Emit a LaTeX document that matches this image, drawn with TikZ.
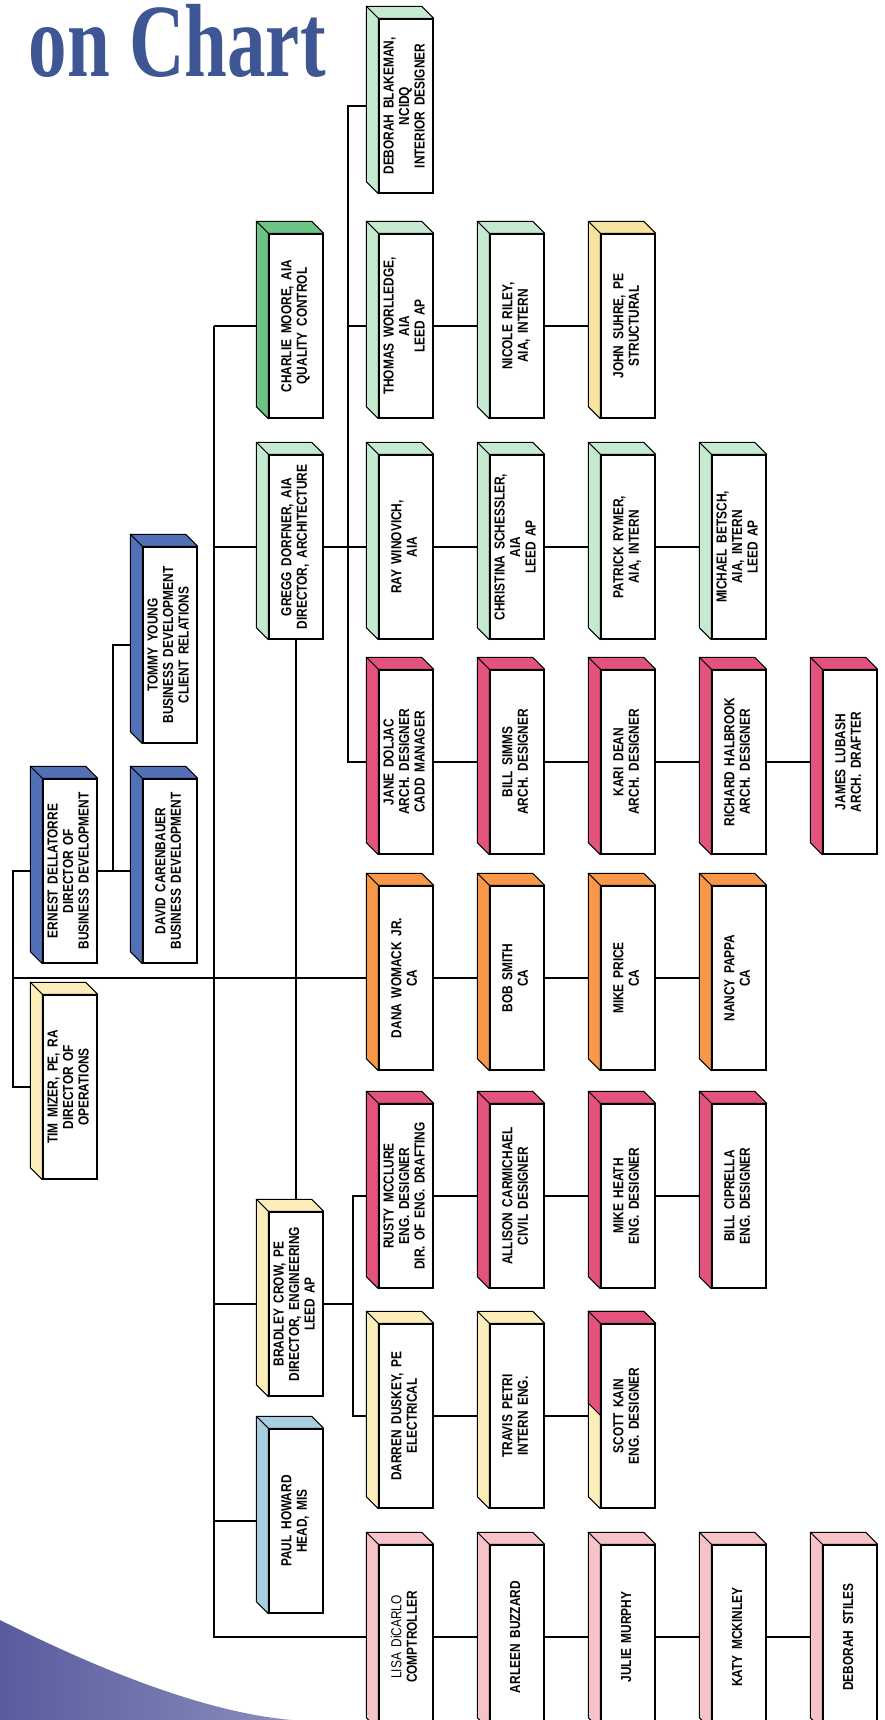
\documentclass[tikz,border=0pt]{standalone}
\usepackage{fontspec}
\usetikzlibrary{backgrounds}
\newfontfamily\cardfont[FakeStretch=0.82, WordSpace=1.7]{Liberation Sans}
\newfontfamily\titlefont[FakeStretch=0.74]{Liberation Serif}

\definecolor{mint}{RGB}{196,234,208}
\definecolor{leaf}{RGB}{108,196,132}
\definecolor{slate}{RGB}{82,112,182}
\definecolor{cream}{RGB}{251,238,186}
\definecolor{sand}{RGB}{248,226,160}
\definecolor{rose}{RGB}{228,82,126}
\definecolor{tangerine}{RGB}{246,152,72}
\definecolor{blush}{RGB}{246,196,200}
\definecolor{sky}{RGB}{168,206,226}
\definecolor{titleblue}{RGB}{62,86,148}
\definecolor{swoosh}{RGB}{88,92,158}

\newcommand{\vlines}[1]{\rotatebox{90}{\begin{tabular}{@{}c@{}}#1\end{tabular}}}

\begin{document}
\begin{tikzpicture}[x=1pt, y=1pt,
  card/.style={draw, fill=white, line width=1.4pt, minimum width=54, minimum height=184,
    inner sep=0, font=\cardfont\bfseries\fontsize{14.5}{15.5}\selectfont},
  side/.style={draw, line width=1pt, line join=round},
  link/.style={draw, line width=1.6pt}]

\useasboundingbox (0,0) rectangle (885,-1720);

% Title and corner swoosh
\node[anchor=base east, inner sep=0, text=titleblue,
  font=\titlefont\bfseries\fontsize{104}{104}\selectfont] (title) at (326,-77) {on Chart};
\shade[left color=swoosh, right color=swoosh!70!white]
  (0,-1620) .. controls (90,-1665) and (200,-1712) .. (292,-1720) -- (0,-1720) -- cycle;

% Business development and operations
\node[card] (ernest) at (70,-871) {\vlines{ERNEST DELLATORRE\\DIRECTOR OF\\BUSINESS DEVELOPMENT}};
\node[card] (tim) at (70,-1087) {\vlines{TIM MIZER, PE, RA\\DIRECTOR OF\\OPERATIONS}};
\node[card, minimum height=196] (tommy) at (170,-645) {\vlines{TOMMY YOUNG\\BUSINESS DEVELOPMENT\\CLIENT RELATIONS}};
\node[card] (david) at (170,-871) {\vlines{DAVID CARENBAUER\\BUSINESS DEVELOPMENT}};

% Directors
\node[card] (charlie) at (296,-326) {\vlines{CHARLIE MOORE, AIA\\QUALITY CONTROL}};
\node[card] (gregg) at (296,-547) {\vlines{GREGG DORFNER, AIA\\DIRECTOR, ARCHITECTURE}};
\node[card] (bradley) at (296,-1304) {\vlines{BRADLEY CROW, PE\\DIRECTOR, ENGINEERING\\LEED AP}};
\node[card] (paul) at (296,-1521) {\vlines{PAUL HOWARD\\HEAD, MIS}};

% Architecture
\node[card, minimum height=174] (debb) at (406,-106) {\vlines{DEBORAH BLAKEMAN,\\NCIDQ\\INTERIOR DESIGNER}};
\node[card] (thomas) at (406,-326) {\vlines{THOMAS WORLLEDGE,\\AIA\\LEED AP}};
\node[card] (nicole) at (517,-326) {\vlines{NICOLE RILEY,\\AIA, INTERN}};
\node[card] (john) at (628,-326) {\vlines{JOHN SUHRE, PE\\STRUCTURAL}};
\node[card] (ray) at (406,-547) {\vlines{RAY WINOVICH,\\AIA}};
\node[card] (christina) at (517,-547) {\vlines{CHRISTINA SCHESSLER,\\AIA\\LEED AP}};
\node[card] (patrick) at (628,-547) {\vlines{PATRICK RYMER,\\AIA, INTERN}};
\node[card] (michael) at (739,-547) {\vlines{MICHAEL BETSCH,\\AIA, INTERN\\LEED AP}};
\node[card] (jane) at (406,-762) {\vlines{JANE DOLJAC\\ARCH. DESIGNER\\CADD MANAGER}};
\node[card] (simms) at (517,-762) {\vlines{BILL SIMMS\\ARCH. DESIGNER}};
\node[card] (kari) at (628,-762) {\vlines{KARI DEAN\\ARCH. DESIGNER}};
\node[card] (richard) at (739,-762) {\vlines{RICHARD HALBROOK\\ARCH. DESIGNER}};
\node[card] (james) at (850,-762) {\vlines{JAMES LUBASH\\ARCH. DRAFTER}};

% CA row
\node[card] (dana) at (406,-978) {\vlines{DANA WOMACK JR.\\CA}};
\node[card] (bob) at (517,-978) {\vlines{BOB SMITH\\CA}};
\node[card] (price) at (628,-978) {\vlines{MIKE PRICE\\CA}};
\node[card] (nancy) at (739,-978) {\vlines{NANCY PAPPA\\CA}};

% Engineering
\node[card] (rusty) at (406,-1196) {\vlines{RUSTY MCCLURE\\ENG. DESIGNER\\DIR. OF ENG. DRAFTING}};
\node[card] (allison) at (517,-1196) {\vlines{ALLISON CARMICHAEL\\CIVIL DESIGNER}};
\node[card] (heath) at (628,-1196) {\vlines{MIKE HEATH\\ENG. DESIGNER}};
\node[card] (ciprella) at (739,-1196) {\vlines{BILL CIPRELLA\\ENG. DESIGNER}};
\node[card] (darren) at (406,-1416) {\vlines{DARREN DUSKEY, PE\\ELECTRICAL}};
\node[card] (travis) at (517,-1416) {\vlines{TRAVIS PETRI\\INTERN ENG.}};
\node[card] (scott) at (628,-1416) {\vlines{SCOTT KAIN\\ENG. DESIGNER}};

% Accounting
\node[card] (lisa) at (406,-1637) {\vlines{{\mdseries LISA DiCARLO}\\COMPTROLLER}};
\node[card] (arleen) at (517,-1637) {\vlines{ARLEEN BUZZARD}};
\node[card] (julie) at (628,-1637) {\vlines{JULIE MURPHY}};
\node[card] (katy) at (739,-1637) {\vlines{KATY MCKINLEY}};
\node[card] (stiles) at (850,-1637) {\vlines{DEBORAH STILES}};

% Connectors behind the cards
\begin{scope}[on background layer]
\coordinate (roottrunk) at (13,0);
\coordinate (bizline) at (113,0);
\coordinate (maintrunk) at (214,0);
\coordinate (archtrunk) at (348,0);
\coordinate (engline) at (353,0);

\draw[link] (ernest.west) -- (ernest.west -| roottrunk) -- (tim.west -| roottrunk) -- (tim.west);
\draw[link] (dana.west -| roottrunk) -- (dana.west);
\draw[link] (ernest) -- (david);
\draw[link] (ernest.east -| bizline) -- (tommy.west -| bizline) -- (tommy.west);

\draw[link] (charlie.west -| maintrunk) -- (lisa.west -| maintrunk) -- (lisa.west);
\foreach \n in {charlie, gregg, bradley, paul}
  \draw[link] (\n.west -| maintrunk) -- (\n.west);

\draw[link] (debb.west) -- (debb.west -| archtrunk) -- (jane.west -| archtrunk) -- (jane.west);
\foreach \n in {thomas, ray}
  \draw[link] (\n.west -| archtrunk) -- (\n.west);
\draw[link] (gregg.east) -- (gregg.east -| archtrunk);
\draw[link] (gregg) -- (bradley);

\draw[link] (bradley.east) -- (bradley.east -| engline);
\draw[link] (rusty.west) -- (rusty.west -| engline) -- (darren.west -| engline) -- (darren.west);

\foreach \a/\b in {thomas/nicole, nicole/john, ray/christina, christina/patrick, patrick/michael,
    jane/simms, simms/kari, kari/richard, richard/james, dana/bob, bob/price, price/nancy,
    rusty/allison, allison/heath, heath/ciprella, darren/travis, travis/scott,
    lisa/arleen, arleen/julie, julie/katy, katy/stiles}
  \draw[link] (\a) -- (\b);
\end{scope}

% Coloured top and left faces
\foreach \n/\c in {debb/mint, charlie/leaf, thomas/mint, nicole/mint, john/sand, gregg/mint,
    ray/mint, christina/mint, patrick/mint, michael/mint, tommy/slate, ernest/slate, david/slate,
    jane/rose, simms/rose, kari/rose, richard/rose, james/rose,
    dana/tangerine, bob/tangerine, price/tangerine, nancy/tangerine, tim/cream,
    rusty/rose, allison/rose, heath/rose, ciprella/rose, bradley/cream, paul/sky,
    darren/cream, travis/cream, scott/cream,
    lisa/blush, arleen/blush, julie/blush, katy/blush, stiles/blush} {
  \filldraw[side, fill=\c] (\n.north west) -- ++(-12,12) -- ([xshift=-12, yshift=12]\n.north east)
    -- (\n.north east) -- cycle;
  \filldraw[side, fill=\c] (\n.north west) -- ++(-12,12) -- ([xshift=-12, yshift=12]\n.south west)
    -- (\n.south west) -- cycle;
}
% Scott's card is half pink
\filldraw[side, fill=rose] (scott.north west) -- ++(-12,12) -- ([xshift=-12, yshift=12]scott.north east)
  -- (scott.north east) -- cycle;
\filldraw[side, fill=rose] (scott.north west) -- ++(-12,12) -- ([xshift=-12, yshift=-80]scott.north west)
  -- ([yshift=-92]scott.north west) -- cycle;

\end{tikzpicture}
\end{document}
